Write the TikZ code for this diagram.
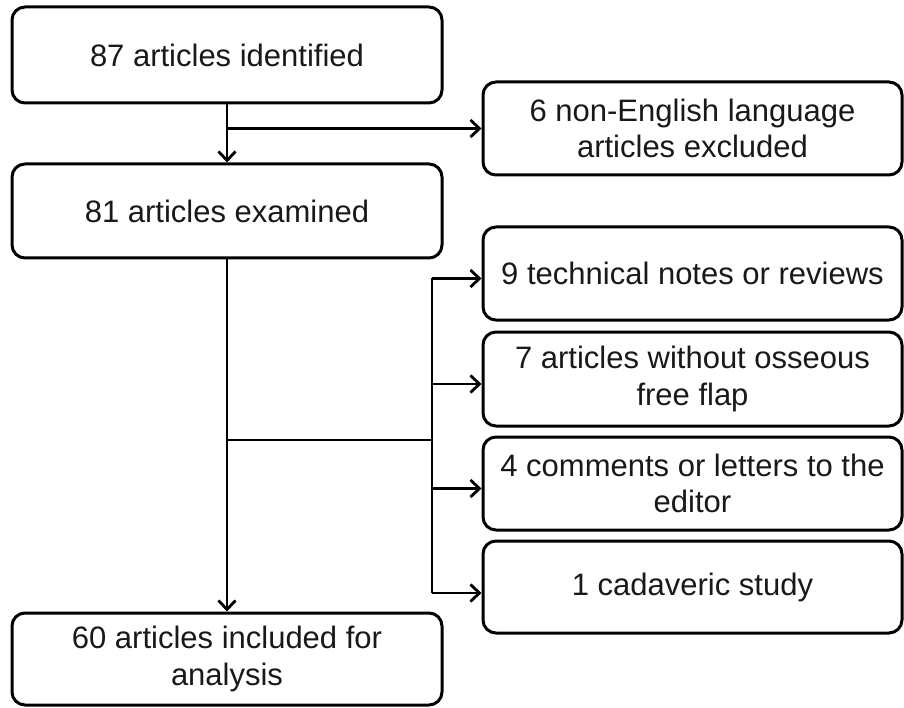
\documentclass[tikz,border=0pt]{standalone}
\usepackage{fontspec}
\setmainfont{Liberation Sans}
\usetikzlibrary{arrows.meta}
\begin{document}
\begin{tikzpicture}[x=1pt,y=-1pt,
  box/.style={draw=black, line width=3pt, rounded corners=13pt, align=center,
    font=\fontsize{31}{36.5}\selectfont, inner sep=0pt, text=black!90},
  leftbox/.style={box, minimum width=430pt},
  rightbox/.style={box, minimum width=419pt},
  conn/.style={draw=black, line width=2.8pt},
  arr/.style={conn, -{Straight Barb[length=9pt,width=17pt,line width=2.8pt]}}
]
\useasboundingbox (0,0) rectangle (904,708);
\fill[white] (0,0) rectangle (904,708);

\node[leftbox, minimum height=96pt] (b1) at (227,55) {87 articles identified};
\node[rightbox, minimum height=93pt] (b2) at (692.5,128.5) {6 non-English language\\articles excluded};
\node[leftbox, minimum height=94pt] (b3) at (227,211) {81 articles examined};
\node[rightbox, minimum height=93pt] (b4) at (692.5,273.5) {9 technical notes or reviews};
\node[rightbox, minimum height=94pt] (b5) at (692.5,379) {7 articles without osseous\\free flap};
\node[rightbox, minimum height=93pt] (b6) at (692.5,483.5) {4 comments or letters to the\\editor};
\node[rightbox, minimum height=92pt] (b7) at (692.5,587) {1 cadaveric study};
\node[leftbox, minimum height=92pt] (b8) at (227,659) {60 articles included for\\analysis};

% first stage
\draw[arr] (b1.south) -- (b3.north);
\draw[arr] (b1.south |- b2.west) -- (b2.west);

% second stage
\draw[arr] (b3.south) -- (b8.north);
\coordinate (j) at (227,440);
\coordinate (br) at (432,440);
\draw[conn] (j) -- (br);
\coordinate (t4) at ([yshift=-5pt]b4.west);
\coordinate (t5) at ([yshift=-5pt]b5.west);
\coordinate (t6) at ([yshift=-5pt]b6.west);
\coordinate (t7) at ([yshift=-6pt]b7.west);
\draw[conn] (br |- t4) -- (br |- t7);
\draw[arr] (br |- t4) -- (t4);
\draw[arr] (br |- t5) -- (t5);
\draw[arr] (br |- t6) -- (t6);
\draw[arr] (br |- t7) -- (t7);
\end{tikzpicture}
\end{document}
